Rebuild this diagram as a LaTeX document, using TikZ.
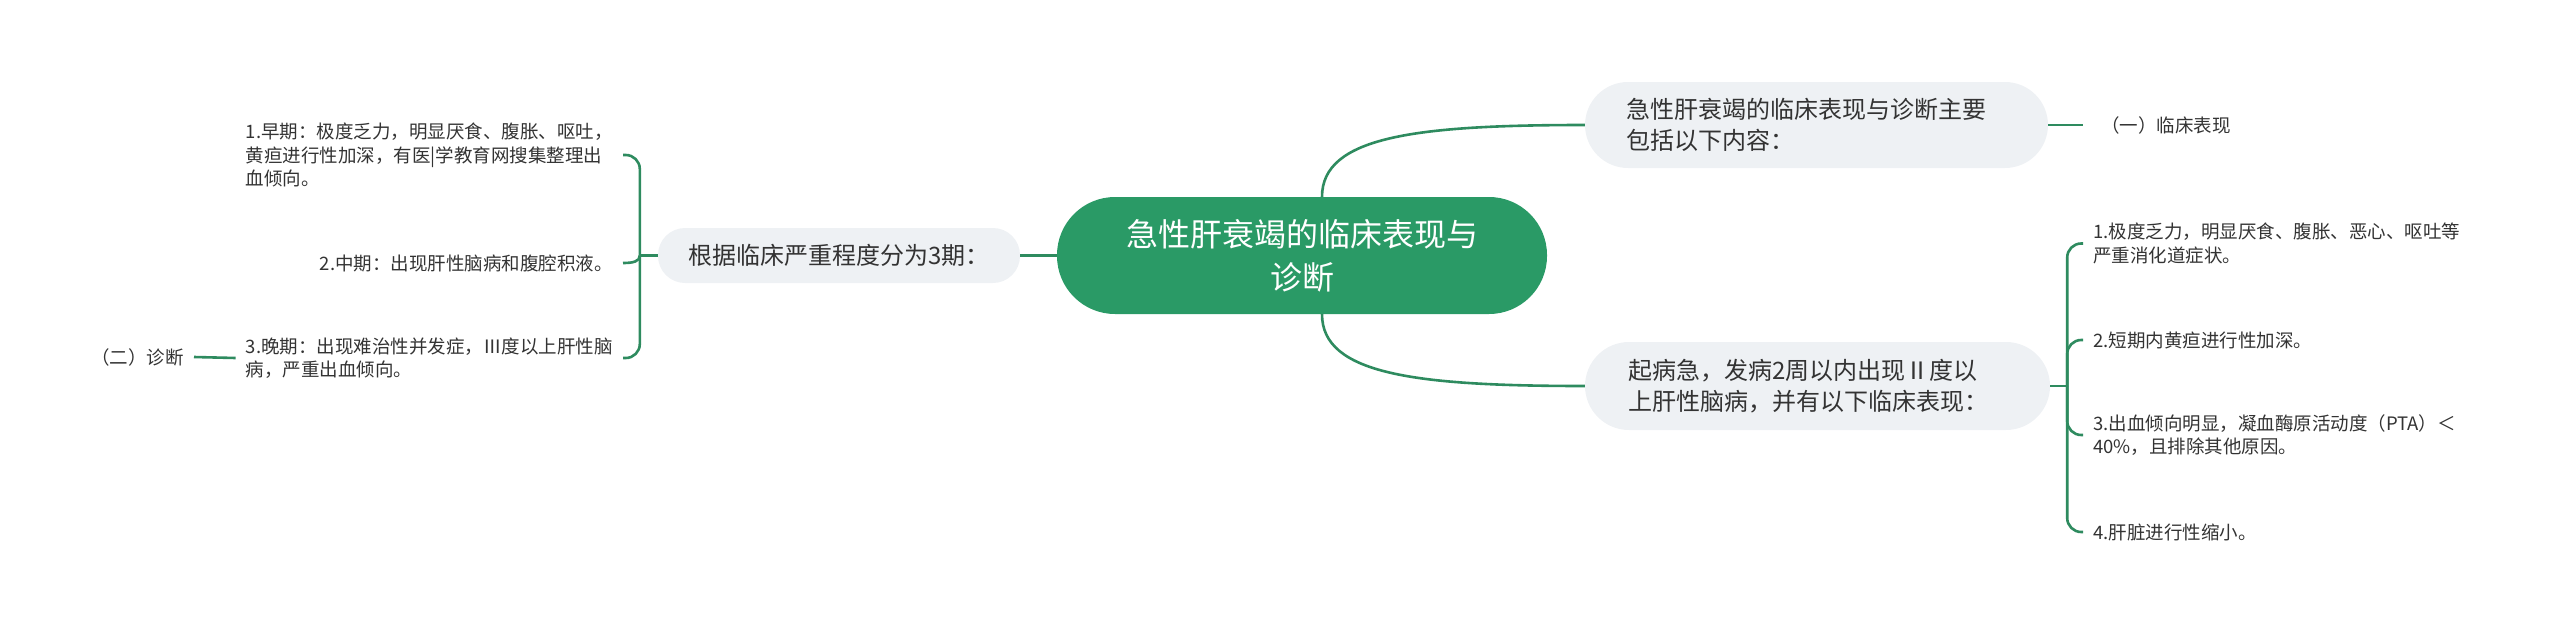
\documentclass[tikz,border=0pt]{standalone}
\usepackage{fontspec}
\setmainfont{Noto Sans CJK SC}
\definecolor{coregreen}{HTML}{2A9A66}
\definecolor{linkgreen}{HTML}{2E8B5F}
\definecolor{topicgray}{HTML}{EEF1F4}
\definecolor{ink}{HTML}{333333}
\begin{document}
\begin{tikzpicture}[x=1pt, y=-1pt,
    core/.style={fill=coregreen, text=white, align=center, rounded corners=58pt,
      minimum width=490pt, minimum height=117pt, font=\fontsize{32}{43}\selectfont},
    topic/.style={fill=topicgray, text=ink, font=\fontsize{24}{31}\selectfont},
    leaf/.style={text=ink, inner xsep=10pt, inner ysep=2pt, align=left,
      font=\fontsize{18.5}{23.5}\selectfont},
    link/.style={draw=linkgreen, line width=2.6pt},
    fork/.style={link, rounded corners=14pt}]
  \useasboundingbox (0,0) rectangle (2560,632);
  %centre
  \node[core] (core) at (1302,255.5) {急性肝衰竭的临床表现与\\诊断};
  %droite
  \node[topic, align=left, text width=380pt, inner xsep=41.5pt, minimum height=86pt,
    rounded corners=43pt] (intro) at (1816.5,125)
    {急性肝衰竭的临床表现与诊断主要\\包括以下内容：};
  \node[topic, align=left, text width=379pt, inner xsep=43pt, minimum height=88pt,
    rounded corners=44pt] (onset) at (1817.5,386)
    {起病急，发病2周以内出现Ⅱ度以\\上肝性脑病，并有以下临床表现：};
  \node[leaf, anchor=west] (clin) at (2091,125) {（一）临床表现};
  \draw[link] ([xshift=20pt]core.north) .. controls +(0,-60) and +(-170,0) .. (intro.west);
  \draw[link] ([xshift=20pt]core.south) .. controls +(0,60) and +(-170,0) .. (onset.west);
  \draw[link, shorten >=8pt] (intro.east) -- (clin.west);
  %symptomes
  \foreach \name/\y/\txt in {sym1/243.5/{1.极度乏力，明显厌食、腹胀、恶心、呕吐等\\严重消化道症状。},
      sym2/340/{2.短期内黄疸进行性加深。},
      sym3/435/{3.出血倾向明显，凝血酶原活动度（PTA）＜\\40\%，且排除其他原因。},
      sym4/532/{4.肝脏进行性缩小。}}{
    \node[leaf, anchor=west] (\name) at (2083,\y) {\txt};
  }
  \coordinate (rfork) at ([xshift=17pt]onset.east);
  \draw[link] (onset.east) -- (rfork);
  \foreach \name in {sym1, sym2, sym3, sym4}{
    \draw[fork] (rfork) |- (\name.west);
  }
  %gauche
  \node[topic, minimum width=362pt, minimum height=55pt, rounded corners=27pt]
    (stage) at (839,255.5) {根据临床严重程度分为3期：};
  \draw[link] (core.west) -- (stage.east);
  \node[leaf, anchor=east] (early) at (623,155)
    {1.早期：极度乏力，明显厌食、腹胀、呕吐，\\黄疸进行性加深，有医|学教育网搜集整理出\\血倾向。};
  \node[leaf, anchor=east] (mid) at (623,263) {2.中期：出现肝性脑病和腹腔积液。};
  \node[leaf, anchor=east] (late) at (623,358)
    {3.晚期：出现难治性并发症，Ⅲ度以上肝性脑\\病，严重出血倾向。};
  \node[leaf, anchor=east] (diag) at (194,357) {（二）诊断};
  \coordinate (lfork) at ([xshift=-18pt]stage.west);
  \draw[link] (stage.west) -- (lfork);
  \draw[fork] (lfork) |- (early.east);
  \draw[fork] (lfork) |- (late.east);
  \draw[link] (lfork) .. controls +(0,6) and +(10,0) .. (mid.east);
  \draw[link] (late.west) -- (diag.east);
\end{tikzpicture}
\end{document}
